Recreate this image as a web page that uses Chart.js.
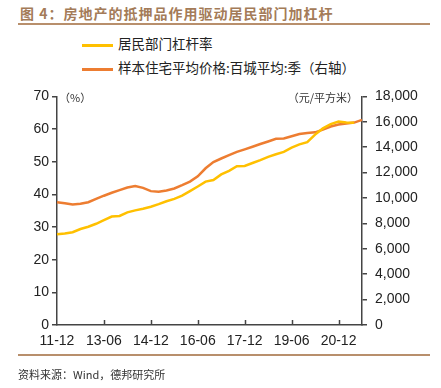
<!DOCTYPE html>
<html>
<head>
<meta charset="utf-8">
<script src="https://cdn.jsdelivr.net/npm/chart.js@4.4.1/dist/chart.umd.min.js"></script>
<style>
    body { margin: 0; width: 441px; height: 388px; background: #fff; position: relative; overflow: hidden;
           font-family: "Liberation Sans", "Noto Sans CJK SC", sans-serif; }
    .title { position: absolute; left: 20px; top: 3px; font-family: "Noto Sans CJK SC"; font-weight: bold;
             font-size: 14px; letter-spacing: 1px; color: #a47b58; }
    .rule { position: absolute; left: 18px; width: 412px; height: 2px; background: #b88f6c; }
    .legend { position: absolute; left: 82px; font-family: "Noto Sans CJK SC"; font-size: 13.5px; color: #222; }
    .legend span.key { display: inline-block; width: 31px; height: 3px; vertical-align: middle; margin-right: 5px; }
    .source { position: absolute; left: 18px; top: 366px; font-family: "Noto Sans CJK SC"; font-size: 11px; color: #333; }
    #wrap { position: absolute; left: 0; top: 80px; width: 441px; height: 275px; }
</style>
</head>
<body>
<div class="title">图 4：房地产的抵押品作用驱动居民部门加杠杆</div>
<div class="rule" style="top:23px"></div>
<div class="legend" style="top:33px"><span class="key" style="background:#ffc000"></span>居民部门杠杆率</div>
<div class="legend" style="top:57px"><span class="key" style="background:#ed7d31"></span>样本住宅平均价格:百城平均:季（右轴）</div>
<div id="wrap"><canvas id="myChart"></canvas></div>
<div class="rule" style="top:354px"></div>
<div class="source">资料来源：Wind，德邦研究所</div>

<script>
// quarterly, 2011-12 .. 2021-09
const quarters = [
    '11-12', '12-03', '12-06', '12-09', '12-12', '13-03', '13-06', '13-09', '13-12', '14-03',
    '14-06', '14-09', '14-12', '15-03', '15-06', '15-09', '15-12', '16-03', '16-06', '16-09',
    '16-12', '17-03', '17-06', '17-09', '17-12', '18-03', '18-06', '18-09', '18-12', '19-03',
    '19-06', '19-09', '19-12', '20-03', '20-06', '20-09', '20-12', '21-03', '21-06', '21-09'
];

// 居民部门杠杆率 (%)
const leverage = [
    27.8, 28.0, 28.4, 29.4, 30.1, 31.0, 32.1, 33.2, 33.4, 34.5,
    35.1, 35.6, 36.2, 37.0, 37.9, 38.6, 39.6, 41.0, 42.4, 43.9,
    44.4, 46.1, 47.2, 48.6, 48.7, 49.6, 50.5, 51.5, 52.3, 53.0,
    54.3, 55.3, 56.0, 58.3, 60.2, 61.5, 62.3, 62.0, 61.9, null
];

// 样本住宅平均价格:百城平均 (元/平方米)
const housePrice = [
    9670, 9590, 9490, 9540, 9670, 9930, 10180, 10410, 10620, 10830,
    10950, 10800, 10540, 10490, 10590, 10750, 11010, 11290, 11700, 12340,
    12830, 13110, 13370, 13630, 13830, 14040, 14250, 14450, 14660, 14680,
    14860, 15040, 15120, 15170, 15380, 15630, 15790, 15870, 15940, 16150
];

const leftTicks = [0, 10, 20, 30, 40, 50, 60, 70];
const rightTicks = [0, 2000, 4000, 6000, 8000, 10000, 12000, 14000, 16000, 18000];

const axisColor = '#444';
const labelFont = { family: 'Liberation Sans', size: 14 };

// small upward ticks on the x axis + unit labels
const extras = {
    id: 'extras',
    afterDraw(chart) {
        const c = chart.ctx;
        const x = chart.scales.x;
        const area = chart.chartArea;
        c.save();
        c.strokeStyle = axisColor;
        c.lineWidth = 1.5;
        x.ticks.forEach((t, i) => {
            if (i % 6 !== 0 || i === 0) return;
            const px = Math.round(x.getPixelForTick(i)) + 0.5;
            c.beginPath();
            c.moveTo(px, area.bottom);
            c.lineTo(px, area.bottom - 5);
            c.stroke();
        });
        c.fillStyle = '#333';
        c.font = '11px "Noto Sans CJK SC"';
        c.textBaseline = 'middle';
        c.textAlign = 'left';
        c.fillText('（%）', area.left + 2, area.top + 1);
        c.textAlign = 'right';
        c.fillText('（元/平方米）', area.right - 4, area.top + 1);
        c.restore();
    }
};

const ctx = document.getElementById('myChart').getContext('2d');
const myChart = new Chart(ctx, {
    type: 'line',
    data: {
        labels: quarters,
        datasets: [{
            label: '居民部门杠杆率',
            data: leverage,
            borderColor: '#ffc000',
            borderWidth: 2.5,
            pointRadius: 0,
            tension: 0,
            yAxisID: 'y'
        }, {
            label: '样本住宅平均价格:百城平均:季（右轴）',
            data: housePrice,
            borderColor: '#ed7d31',
            borderWidth: 2.5,
            pointRadius: 0,
            tension: 0,
            yAxisID: 'y1'
        }]
    },
    options: {
        responsive: true,
        maintainAspectRatio: false,
        animation: false,
        layout: { padding: { top: 11, left: 0, right: 0, bottom: 0 } },
        plugins: {
            legend: { display: false },
            tooltip: { enabled: false }
        },
        scales: {
            x: {
                offset: false,
                grid: { display: true, drawOnChartArea: false, drawTicks: false },
                border: { color: axisColor, width: 1.5 },
                ticks: {
                    autoSkip: false,
                    maxRotation: 0,
                    padding: 8,
                    color: '#222',
                    font: labelFont,
                    callback: function (v, i) { return i % 6 === 0 ? quarters[i] : ''; }
                },
                afterFit(scale) { scale.height = 30; }
            },
            y: {
                position: 'left',
                min: 0,
                max: 70,
                grid: { drawOnChartArea: false, drawTicks: true, tickLength: 5, color: axisColor, lineWidth: 1.5 },
                border: { color: axisColor, width: 1.5 },
                ticks: {
                    stepSize: 10,
                    padding: 3,
                    color: '#222',
                    font: labelFont,
                    callback: v => leftTicks.includes(v) ? v : ''
                },
                afterFit(scale) { scale.width = 57; }
            },
            y1: {
                position: 'right',
                min: 0,
                max: 18000,
                grid: { drawOnChartArea: false, drawTicks: true, tickLength: 5, color: axisColor, lineWidth: 1.5 },
                border: { color: axisColor, width: 1.5 },
                ticks: {
                    stepSize: 2000,
                    padding: 8,
                    color: '#222',
                    font: labelFont,
                    callback: v => rightTicks.includes(v) ? v.toLocaleString('en-US') : ''
                },
                afterFit(scale) { scale.width = 79; }
            }
        }
    },
    plugins: [extras]
});
</script>
</body>
</html>
